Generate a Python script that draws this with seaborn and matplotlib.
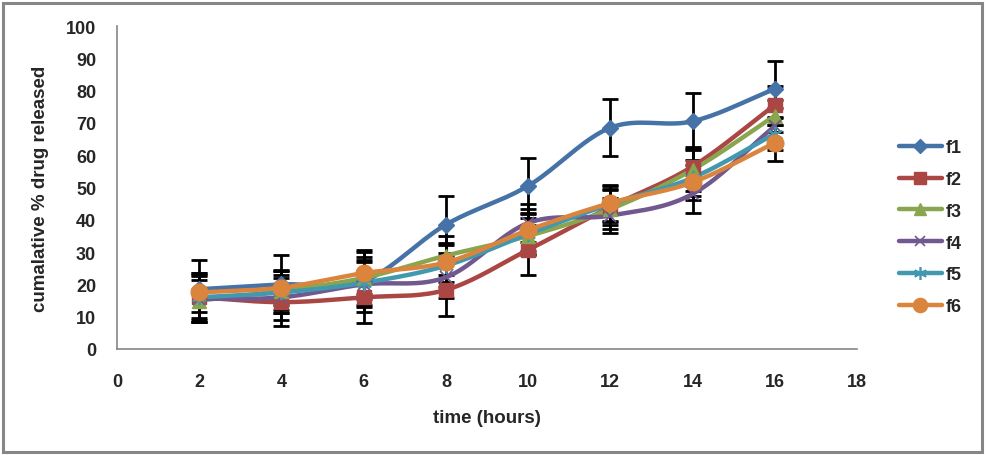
import numpy as np
import matplotlib
matplotlib.use("Agg")
import matplotlib.pyplot as plt
import seaborn as sns
from matplotlib.patches import Rectangle

# data
time_h = [2, 4, 6, 8, 10, 12, 14, 16]
f1 = [18.5, 20.0, 21.0, 38.5, 50.5, 68.5, 70.5, 80.5]
f2 = [16.0, 14.5, 16.0, 18.3, 30.7, 44.0, 56.5, 75.5]
f3 = [15.0, 18.0, 22.0, 28.9, 35.0, 43.3, 55.5, 72.2]
f4 = [15.5, 16.0, 20.0, 22.2, 39.0, 41.3, 48.0, 69.0]
f5 = [16.0, 17.5, 20.5, 25.8, 35.6, 44.9, 53.0, 66.6]
f6 = [17.5, 19.0, 23.5, 26.8, 36.8, 45.2, 51.6, 63.8]

f1_err = [9.0, 9.0, 9.5, 8.8, 8.6, 8.8, 8.8, 8.8]
f2_err = [7.0, 7.5, 8.0, 8.0, 7.7, 5.5, 6.0, 6.0]
f3_err = [6.5, 6.0, 6.5, 6.0, 5.5, 6.0, 6.5, 5.0]
f4_err = [7.0, 7.0, 7.0, 6.5, 6.0, 5.5, 6.0, 5.5]
f5_err = [7.5, 6.5, 7.0, 6.5, 6.5, 5.5, 5.5, 5.0]
f6_err = [6.0, 5.5, 6.5, 6.0, 6.5, 5.5, 5.5, 5.5]

names = ["f1", "f2", "f3", "f4", "f5", "f6"]
series = [f1, f2, f3, f4, f5, f6]
errors = [f1_err, f2_err, f3_err, f4_err, f5_err, f6_err]
colors = ["#4572A7", "#AA4643", "#89A54E", "#71588F", "#4198AF", "#DB843D"]
markers = ["D", "s", "^", "x", (6, 2, 0), "o"]
msizes = [8, 10, 10, 9, 11, 12]


def smooth(x, y, n=20):
    # Catmull-Rom style smoothing, like Excel's "smoothed line"
    x = np.asarray(x, float)
    y = np.asarray(y, float)
    px = np.concatenate([[2 * x[0] - x[1]], x, [2 * x[-1] - x[-2]]])
    py = np.concatenate([[2 * y[0] - y[1]], y, [2 * y[-1] - y[-2]]])
    xs, ys = [], []
    t = np.linspace(0, 1, n)
    for i in range(1, len(px) - 2):
        p0, p1, p2, p3 = px[i - 1], px[i], px[i + 1], px[i + 2]
        q0, q1, q2, q3 = py[i - 1], py[i], py[i + 1], py[i + 2]
        bx = 0.5 * ((2 * p1) + (-p0 + p2) * t + (2 * p0 - 5 * p1 + 4 * p2 - p3) * t ** 2
                    + (-p0 + 3 * p1 - 3 * p2 + p3) * t ** 3)
        by = 0.5 * ((2 * q1) + (-q0 + q2) * t + (2 * q0 - 5 * q1 + 4 * q2 - q3) * t ** 2
                    + (-q0 + 3 * q1 - 3 * q2 + q3) * t ** 3)
        xs.extend(bx)
        ys.extend(by)
    return np.array(xs), np.array(ys)


sns.set_theme(style="white")
plt.rcParams["font.family"] = ["Liberation Sans", "DejaVu Sans"]
plt.rcParams["font.weight"] = "bold"

fig = plt.figure(figsize=(9.86, 4.56), dpi=100)
ax = fig.add_axes([117 / 986, 1 - 350 / 456, 740 / 986, 323 / 456])

# outer chart border
fig.patches.append(Rectangle((3 / 986, 3 / 456), 979 / 986, 449 / 456,
                             transform=fig.transFigure, fill=False,
                             edgecolor="#868686", linewidth=2.2))

# error bars first (black, capped)
for y, e in zip(series, errors):
    ax.errorbar(time_h, y, yerr=e, fmt="none", ecolor="black",
                elinewidth=2, capsize=6, capthick=2, zorder=2)

for name, y, c, m, ms in zip(names, series, colors, markers, msizes):
    xs, ys = smooth(time_h, y)
    sns.lineplot(x=xs, y=ys, ax=ax, color=c, linewidth=3.2, sort=False,
                 estimator=None, zorder=3)
    thin = m == "x" or isinstance(m, tuple)
    ax.plot(time_h, y, linestyle="none", marker=m, markersize=ms, color=c,
            markeredgecolor=c, markeredgewidth=1.3 if thin else 1,
            zorder=4)
    # legend proxy
    ax.plot([], [], color=c, linewidth=3.2, marker=m, markersize=ms * 0.85,
            markeredgecolor=c, markeredgewidth=1.2 if thin else 1, label=name)

ax.set_xlim(0, 18)
ax.set_ylim(0, 100)
ax.set_xticks(range(0, 19, 2))
ax.set_yticks(range(0, 101, 10))
for s in ["top", "right"]:
    ax.spines[s].set_visible(False)
for s in ["left", "bottom"]:
    ax.spines[s].set_color("#868686")
    ax.spines[s].set_linewidth(1.2)
ax.tick_params(axis="both", which="major", direction="out", length=5,
               width=1.2, color="#868686", labelsize=13, pad=10)
ax.tick_params(axis="x", pad=12)
for lbl in ax.get_xticklabels() + ax.get_yticklabels():
    lbl.set_fontweight("bold")

ax.set_xlabel("time (hours)", fontsize=13.5, fontweight="bold", labelpad=14)
ax.set_ylabel("cumalative % drug released", fontsize=13.5, fontweight="bold",
              labelpad=12)

leg = ax.legend(loc="upper left", bbox_to_anchor=(1.035, 0.70), frameon=False,
                fontsize=13, handlelength=2.35, labelspacing=0.82,
                handletextpad=0.25)
for t in leg.get_texts():
    t.set_fontweight("bold")

fig.savefig("out.png", dpi=100)
